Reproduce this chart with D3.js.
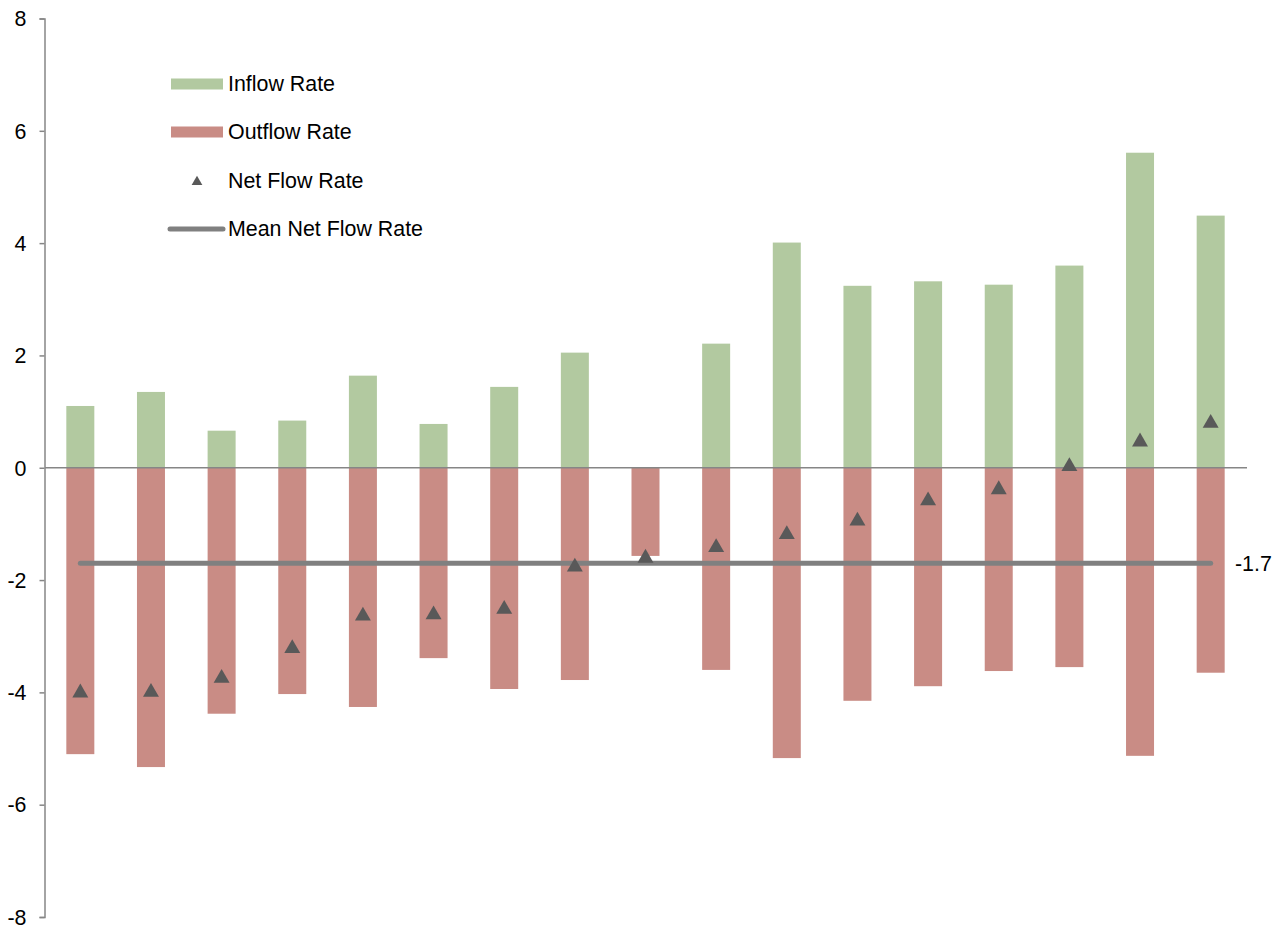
<!DOCTYPE html>
<html>
<head>
<meta charset="utf-8">
<script src="https://cdn.jsdelivr.net/npm/d3@7"></script>
<style>
  html, body { margin: 0; padding: 0; background: #fff; }
  svg { display: block; font-family: "Liberation Sans", Arial, sans-serif; }
</style>
</head>
<body>
<svg id="chart" width="1286" height="926"></svg>
<script>
// Flow rates per group (17 groups, ordered by net flow)
const groups = d3.range(1, 18).map(String);
const inflow  = [1.10, 1.35, 0.66, 0.84, 1.64, 0.78, 1.44, 2.05, 0.00, 2.21, 4.01, 3.24, 3.32, 3.26, 3.60, 5.61, 4.49];
const outflow = [-5.10, -5.33, -4.38, -4.03, -4.26, -3.39, -3.94, -3.78, -1.57, -3.60, -5.17, -4.15, -3.89, -3.62, -3.55, -5.13, -3.65];
const netflow = [-3.99, -3.98, -3.73, -3.20, -2.62, -2.60, -2.50, -1.75, -1.59, -1.40, -1.17, -0.93, -0.57, -0.37, 0.04, 0.48, 0.81];
const meanNet = -1.7;
const yTicks = [-8, -6, -4, -2, 0, 2, 4, 6, 8];
const legendLabels = ["Inflow Rate", "Outflow Rate", "Net Flow Rate", "Mean Net Flow Rate"];

const colors = {
  inflow: "#b2c9a0",
  outflow: "#c98c85",
  net: "#595959",
  mean: "#808080",
  axis: "#868686"
};
const fontSize = 21.4;

const svg = d3.select("#chart");
const x = d3.scaleBand().domain(groups).range([45, 1246]).paddingInner(0.6).paddingOuter(0.3);
const y = d3.scaleLinear().domain([-8, 8]).range([917, 18.5]);
const barW = 28;
const cx = g => x(g) + x.bandwidth() / 2;

// Bars
const g = svg.append("g");
g.selectAll("rect.in").data(groups).join("rect")
  .attr("class", "in")
  .attr("x", (d) => cx(d) - barW / 2)
  .attr("width", barW)
  .attr("y", (d, i) => y(Math.max(0, inflow[i])))
  .attr("height", (d, i) => Math.abs(y(inflow[i]) - y(0)))
  .attr("fill", colors.inflow);

g.selectAll("rect.out").data(groups).join("rect")
  .attr("class", "out")
  .attr("x", (d) => cx(d) - barW / 2)
  .attr("width", barW)
  .attr("y", y(0))
  .attr("height", (d, i) => Math.abs(y(outflow[i]) - y(0)))
  .attr("fill", colors.outflow);

// Zero line
svg.append("line")
  .attr("x1", 45).attr("x2", 1247)
  .attr("y1", y(0)).attr("y2", y(0))
  .attr("stroke", colors.axis).attr("stroke-width", 1.5);

// Mean net flow line
svg.append("line")
  .attr("x1", cx(groups[0])).attr("x2", cx(groups[groups.length - 1]))
  .attr("y1", y(meanNet)).attr("y2", y(meanNet))
  .attr("stroke", colors.mean).attr("stroke-width", 5)
  .attr("stroke-linecap", "round");

svg.append("text")
  .attr("x", 1235).attr("y", y(meanNet))
  .attr("dy", "0.35em")
  .attr("font-size", fontSize).attr("fill", "#000")
  .text(d3.format(".1f")(meanNet).replace("−", "-"));

// Net flow triangles
const tri = d3.symbol().type(d3.symbolTriangle);
svg.selectAll("path.net").data(groups).join("path")
  .attr("class", "net")
  .attr("d", tri.size(110))
  .attr("transform", (d, i) => `translate(${cx(d)},${y(netflow[i]) + 1})`)
  .attr("fill", colors.net);

// Y axis
const yAxis = d3.axisLeft(y).tickValues(yTicks).tickSize(5).tickPadding(13)
  .tickFormat(d => String(d));
const ya = svg.append("g").attr("transform", "translate(44.5,0)").call(yAxis);
ya.select(".domain").attr("stroke", colors.axis).attr("stroke-width", 1.5);
ya.selectAll(".tick line").attr("stroke", colors.axis).attr("stroke-width", 1.5);
ya.selectAll(".tick text").attr("font-size", fontSize).attr("fill", "#000")
  .attr("font-family", "Liberation Sans, Arial, sans-serif")
  .attr("dy", "0.34em");

// Legend
const legend = svg.append("g");
const rows = [84, 132, 181, 229];
legend.append("rect").attr("x", 171).attr("y", rows[0] - 5.5).attr("width", 52).attr("height", 11).attr("fill", colors.inflow);
legend.append("rect").attr("x", 171).attr("y", rows[1] - 5.5).attr("width", 52).attr("height", 11).attr("fill", colors.outflow);
legend.append("path").attr("d", d3.symbol().type(d3.symbolTriangle).size(50)())
  .attr("transform", `translate(197,${rows[2] + 1})`).attr("fill", colors.net);
legend.append("line").attr("x1", 170).attr("x2", 223).attr("y1", rows[3]).attr("y2", rows[3])
  .attr("stroke", colors.mean).attr("stroke-width", 5).attr("stroke-linecap", "round");
legend.selectAll("text").data(legendLabels).join("text")
  .attr("x", 228).attr("y", (d, i) => rows[i]).attr("dy", "0.35em")
  .attr("font-size", fontSize).attr("fill", "#000")
  .text(d => d);
</script>
</body>
</html>
